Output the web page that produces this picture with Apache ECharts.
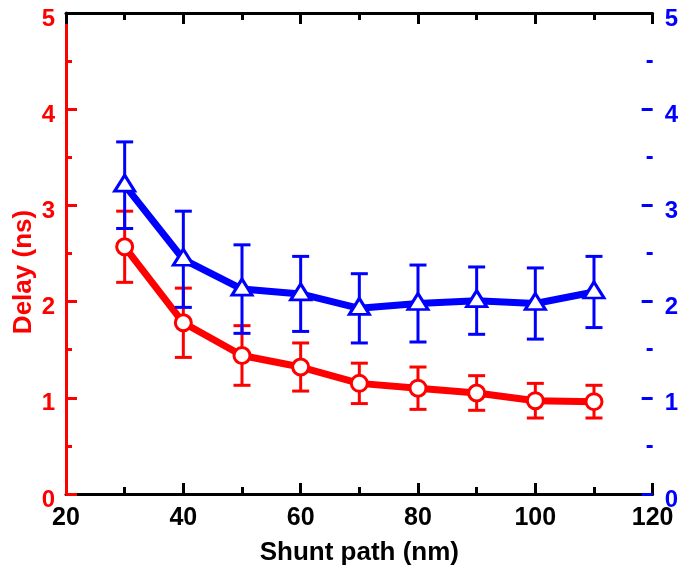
<!DOCTYPE html>
<html>
<head>
<meta charset="utf-8">
<style>
  html, body { margin: 0; padding: 0; background: #fff; }
  #chart { width: 681px; height: 571px; }
</style>
<script src="https://cdn.jsdelivr.net/npm/echarts@6/dist/echarts.min.js"></script>
</head>
<body>
<div id="chart"></div>
<script>
// Shunt path lengths (nm)
const shuntPath = [30, 40, 50, 60, 70, 80, 90, 100, 110];
// Red series (left axis): delay and symmetric error
const redDelay = [2.57, 1.78, 1.44, 1.32, 1.15, 1.10, 1.05, 0.97, 0.96];
const redErr   = [0.37, 0.36, 0.31, 0.25, 0.21, 0.22, 0.18, 0.18, 0.17];
// Blue series (right axis): delay and symmetric error
const blueDelay = [3.21, 2.44, 2.13, 2.08, 1.93, 1.98, 2.01, 1.98, 2.10];
const blueErr   = [0.45, 0.50, 0.46, 0.39, 0.36, 0.40, 0.35, 0.37, 0.37];
// Axis ticks
const xTicks = { min: 20, max: 120, step: 20 };
const yTicks = { min: 0, max: 5, step: 1 };

const RED = '#ff0000';
const BLUE = '#0000ff';
const FONT = '"Liberation Sans", Arial, Helvetica, sans-serif';

function pairs(xs, ys) { return xs.map((x, i) => [x, ys[i]]); }
function errRows(xs, ys, es) { return xs.map((x, i) => [x, ys[i] - es[i], ys[i] + es[i]]); }

function errorBars(color) {
  return function (params, api) {
    const x = api.value(0);
    const lo = api.coord([x, api.value(1)]);
    const hi = api.coord([x, api.value(2)]);
    const half = 8.5;
    const st = { stroke: color, lineWidth: 3, lineCap: 'butt' };
    return {
      type: 'group',
      children: [
        { type: 'line', shape: { x1: hi[0], y1: hi[1], x2: lo[0], y2: lo[1] }, style: st },
        { type: 'line', shape: { x1: hi[0] - half, y1: hi[1], x2: hi[0] + half, y2: hi[1] }, style: st },
        { type: 'line', shape: { x1: lo[0] - half, y1: lo[1], x2: lo[0] + half, y2: lo[1] }, style: st }
      ]
    };
  };
}

// y tick labels sit slightly below their ticks
function yLabel(color, margin) {
  return {
    color: color, margin: margin,
    formatter: '{v|{value}}',
    rich: { v: { color: color, fontFamily: FONT, fontWeight: 'bold', fontSize: 24, padding: [12, 0, 0, 0] } }
  };
}

const chart = echarts.init(document.getElementById('chart'), null, { renderer: 'canvas' });

const xBase = {
  type: 'value',
  min: xTicks.min, max: xTicks.max, interval: xTicks.step,
  splitLine: { show: false },
  axisLine: { show: true, onZero: false, lineStyle: { color: '#000', width: 3 } },
  axisTick: { show: true, inside: true, length: 11, lineStyle: { color: '#000', width: 3 } },
  minorTick: { show: true, splitNumber: 2, length: 7, lineStyle: { color: '#000', width: 3 } },
  minorSplitLine: { show: false }
};

const yBase = {
  type: 'value',
  min: yTicks.min, max: yTicks.max, interval: yTicks.step,
  splitLine: { show: false },
  minorSplitLine: { show: false }
};

chart.setOption({
  animation: false,
  backgroundColor: '#fff',
  grid: { left: 66, right: 27, top: 13, bottom: 75, containLabel: false },
  xAxis: [
    Object.assign({}, xBase, {
      position: 'bottom', z: 0,
      name: 'Shunt path (nm)', nameLocation: 'middle', nameGap: 46,
      nameTextStyle: { color: '#000', fontFamily: FONT, fontWeight: 'bold', fontSize: 26 },
      axisLabel: { color: '#000', fontFamily: FONT, fontWeight: 'bold', fontSize: 25, margin: 12 }
    }),
    Object.assign({}, xBase, {
      position: 'top', z: 3,
      axisLabel: { show: false }
    })
  ],
  yAxis: [
    Object.assign({}, yBase, {
      position: 'left', z: 1,
      axisLine: { show: true, onZero: false, lineStyle: { color: RED, width: 3 } },
      axisTick: { show: true, inside: true, length: 11, lineStyle: { color: RED, width: 3 } },
      minorTick: { show: true, splitNumber: 2, length: 6, lineStyle: { color: RED, width: 3 } },
      axisLabel: yLabel(RED, 11)
    }),
    Object.assign({}, yBase, {
      position: 'right', z: 1,
      axisLine: { show: false },
      axisTick: { show: true, inside: true, length: 11, lineStyle: { color: BLUE, width: 3 } },
      minorTick: { show: true, splitNumber: 2, length: 6, lineStyle: { color: BLUE, width: 3 } },
      axisLabel: yLabel(BLUE, 12)
    })
  ],
  graphic: [{
    type: 'text',
    x: 24, y: 272,
    rotation: Math.PI / 2,
    style: {
      text: 'Delay (ns)',
      fill: RED,
      font: 'bold 26px ' + FONT,
      align: 'center',
      verticalAlign: 'middle'
    }
  }],
  series: [
    {
      type: 'custom', name: 'red-err', xAxisIndex: 0, yAxisIndex: 0, z: 2,
      renderItem: errorBars(RED),
      encode: { x: 0, y: [1, 2] },
      data: errRows(shuntPath, redDelay, redErr)
    },
    {
      type: 'line', name: 'red', xAxisIndex: 0, yAxisIndex: 0, z: 3,
      data: pairs(shuntPath, redDelay),
      lineStyle: { color: RED, width: 7 },
      symbol: 'circle', symbolSize: 16,
      itemStyle: { color: '#fff', borderColor: RED, borderWidth: 3 }
    },
    {
      type: 'custom', name: 'blue-err', xAxisIndex: 0, yAxisIndex: 1, z: 4,
      renderItem: errorBars(BLUE),
      encode: { x: 0, y: [1, 2] },
      data: errRows(shuntPath, blueDelay, blueErr)
    },
    {
      type: 'line', name: 'blue', xAxisIndex: 0, yAxisIndex: 1, z: 5,
      data: pairs(shuntPath, blueDelay),
      lineStyle: { color: BLUE, width: 7 },
      symbol: 'triangle', symbolSize: [20, 16], symbolOffset: [0, -2],
      itemStyle: { color: '#fff', borderColor: BLUE, borderWidth: 3 }
    }
  ]
});
</script>
</body>
</html>
